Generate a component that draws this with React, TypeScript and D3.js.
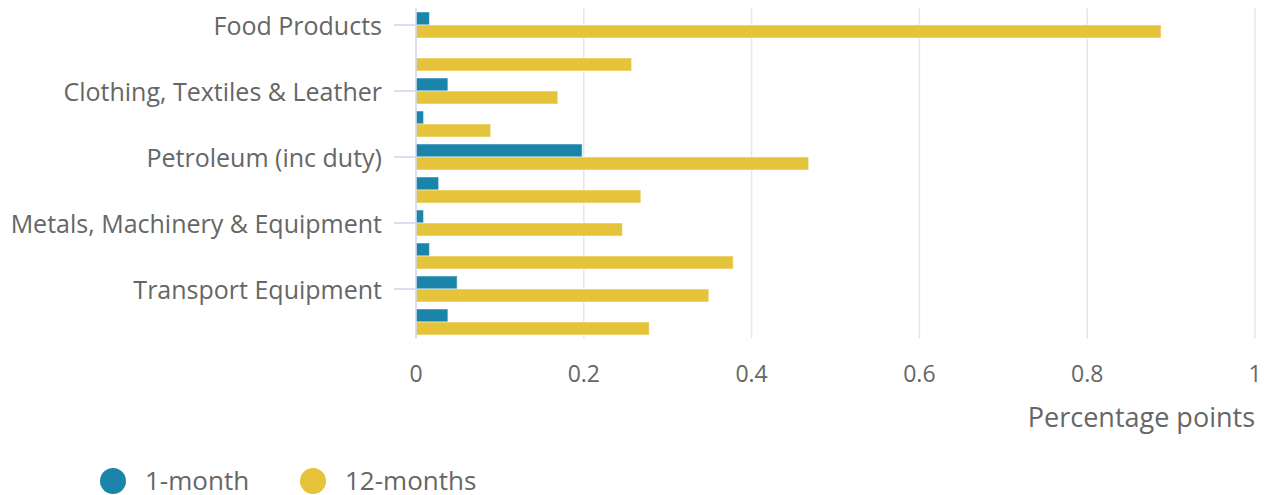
import React from "react";
import * as d3 from "d3";

const categories = [
  "Food Products",
  "Tobacco & Alcohol",
  "Clothing, Textiles & Leather",
  "Paper & Printing",
  "Petroleum (inc duty)",
  "Chemical & Pharmaceutical",
  "Metals, Machinery & Equipment",
  "Computer, Electrical & Optical",
  "Transport Equipment",
  "Other Manufactured Products",
];
const shownLabels = [0, 2, 4, 6, 8];
const oneMonth = [0.016, 0, 0.038, 0.009, 0.198, 0.027, 0.009, 0.016, 0.049, 0.038];
const twelveMonths = [0.888, 0.257, 0.169, 0.089, 0.468, 0.268, 0.246, 0.378, 0.349, 0.278];
const xTicks = [0, 0.2, 0.4, 0.6, 0.8, 1];
const seriesNames = ["1-month", "12-months"];
const colors = ["#1a84ab", "#e5c33a"];

const W = 1267;
const H = 495;
const FONT = "'Open Sans', sans-serif";

export default function App() {
  const x = d3.scaleLinear().domain([0, 1]).range([416, 1255]);
  const y = d3.scaleBand<string>().domain(categories).range([8.5, 338.5]).paddingInner(0).paddingOuter(0);
  const sub = d3.scaleBand<string>().domain(seriesNames).range([3.5, y.bandwidth() - 3.5]);
  const data = [oneMonth, twelveMonths];
  const fmt = (v: number) => (v === 0 ? "0" : v === 1 ? "1" : d3.format(".1f")(v));

  return (
    <svg width={W} height={H} style={{ position: "absolute", left: 0, top: 0, background: "#fff" }} fontFamily={FONT}>
      {xTicks.filter((t) => t > 0).map((t) => (
        <line key={t} x1={x(t)} x2={x(t)} y1={8.5} y2={338.5} stroke="#e6e6e6" strokeWidth={1.5} />
      ))}
      {data.map((vals, si) =>
        vals.map((v, i) => (
          <rect
            key={si + "-" + i}
            x={x(0)}
            y={(y(categories[i]) as number) + (sub(seriesNames[si]) as number)}
            width={Math.max(0, x(v) - x(0))}
            height={sub.bandwidth()}
            fill={colors[si]}
            stroke="#ffffff"
            strokeOpacity={0.5}
            strokeWidth={1}
          />
        ))
      )}
      <line x1={x(0)} x2={x(0)} y1={8.5} y2={338.5} stroke="#ccd6eb" strokeWidth={1.5} />
      {shownLabels.map((i) => {
        const cy = (y(categories[i]) as number) + y.bandwidth() / 2;
        return (
          <g key={i}>
            <line x1={394} x2={x(0)} y1={cy} y2={cy} stroke="#ccd6eb" strokeWidth={1.5} />
            <text x={382} y={cy + 10} textAnchor="end" fontSize={25} fill="#666666">
              {categories[i]}
            </text>
          </g>
        );
      })}
      {xTicks.map((t) => (
        <text key={t} x={x(t)} y={382} textAnchor="middle" fontSize={23} fill="#666666">
          {fmt(t)}
        </text>
      ))}
      <text x={1255} y={427} textAnchor="end" fontSize={27} fill="#666666">
        Percentage points
      </text>
      {seriesNames.map((s, i) => (
        <g key={s}>
          <circle cx={113 + i * 200} cy={481} r={13} fill={colors[i]} />
          <text x={145 + i * 200} y={490} fontSize={26} fill="#666666">
            {s}
          </text>
        </g>
      ))}
    </svg>
  );
}
